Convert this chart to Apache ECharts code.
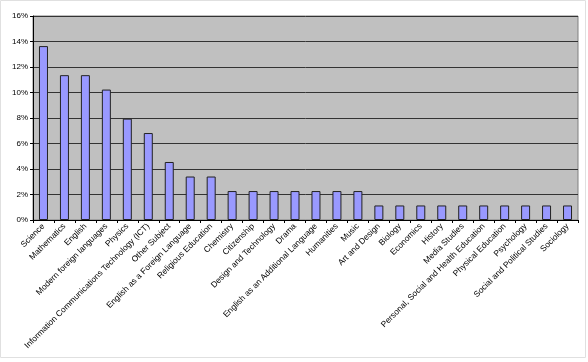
<!DOCTYPE html>
<html><head><meta charset="utf-8">
<script src="https://cdn.jsdelivr.net/npm/echarts@6/dist/echarts.min.js"></script>
<style>html,body{margin:0;padding:0;background:#fff}#c{width:588px;height:362px}</style>
</head><body><div id="c"></div>
<script>
const categories = ["Science","Mathematics","English","Modern foreign languages","Physics","Information Communications Technology (ICT)","Other Subject","English as a Foreign Language","Religious Education","Chemistry","Citizenship","Design and Technology","Drama","English as an Additional Language","Humanities","Music","Art and Design","Biology","Economics","History","Media Studies","Personal, Social and Health Education","Physical Education","Psychology","Social and Political Studies","Sociology"];
const values = [13.64,11.36,11.36,10.23,7.95,6.82,4.55,3.41,3.41,2.27,2.27,2.27,2.27,2.27,2.27,2.27,1.14,1.14,1.14,1.14,1.14,1.14,1.14,1.14,1.14,1.14];
const yTicks = [0,2,4,6,8,10,12,14,16];
const chart = echarts.init(document.getElementById('c'));
chart.setOption({
  animation:false,
  graphic:[{type:'rect',shape:{x:0.5,y:0.5,width:585,height:357},style:{fill:'none',stroke:'#e0e0e0',lineWidth:1},silent:true}],
  grid:{left:33,right:10,top:16,bottom:142,show:true,backgroundColor:'#C0C0C0',borderColor:'#808080',borderWidth:1},
  xAxis:{type:'category',data:categories,
    axisLine:{lineStyle:{color:'#000',width:1}},
    axisTick:{show:true,alignWithLabel:false,length:3,lineStyle:{color:'#000'}},
    axisLabel:{interval:0,rotate:45,fontSize:8.4,fontFamily:'Arial, Liberation Sans',color:'#000',margin:5}},
  yAxis:{type:'value',min:yTicks[0],max:yTicks[yTicks.length-1],interval:2,
    axisLine:{show:true,lineStyle:{color:'#000'}},
    axisTick:{show:true,length:3,lineStyle:{color:'#000'}},
    splitLine:{lineStyle:{color:'#333',width:1}},
    axisLabel:{formatter:v=>v+'%',fontSize:8,fontFamily:'Arial, Liberation Sans',color:'#000',margin:5}},
  series:[{type:'bar',data:values,barWidth:9,
    itemStyle:{color:'#9999FF',borderColor:'#222',borderWidth:1}}]
});
</script></body></html>
